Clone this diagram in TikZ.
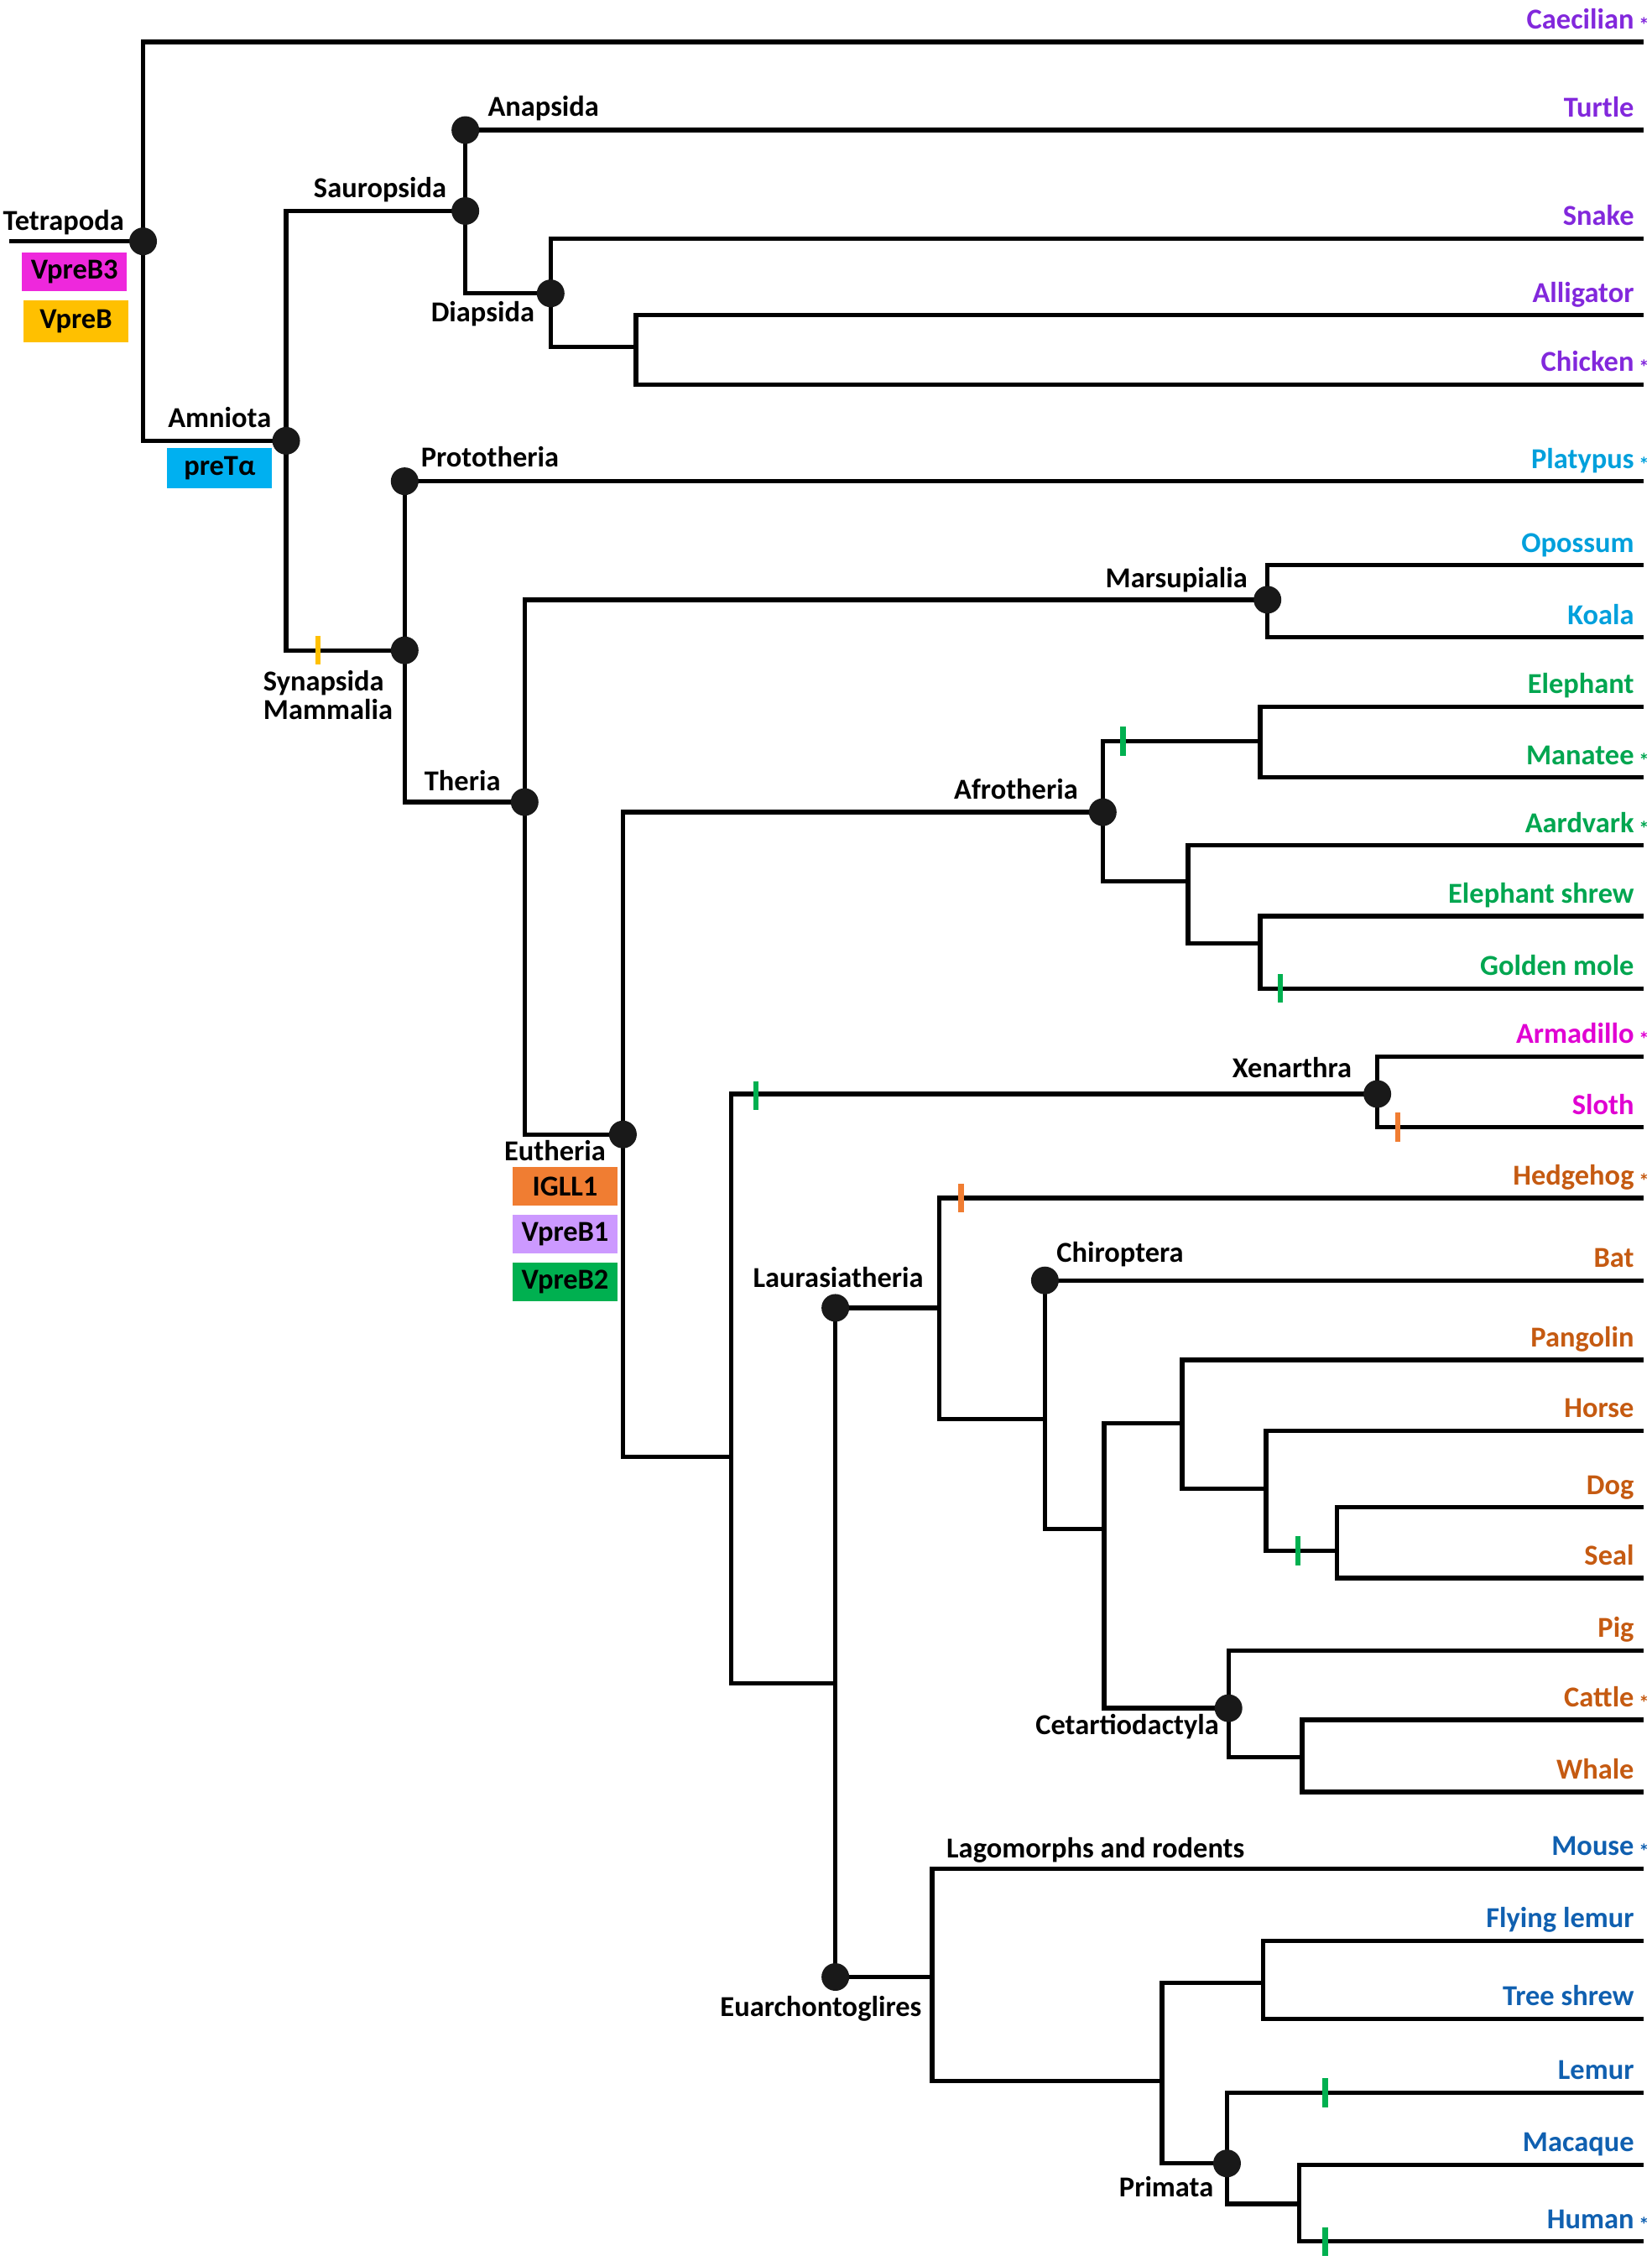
\documentclass[tikz,border=0pt]{standalone}
\usepackage{fontspec}
\setmainfont{Carlito}
\usetikzlibrary{positioning}

\definecolor{cPurple}{RGB}{130,40,220}
\definecolor{cSky}{RGB}{0,160,220}
\definecolor{cGreen}{RGB}{0,166,80}
\definecolor{cMagenta}{RGB}{224,0,210}
\definecolor{cBrown}{RGB}{197,90,17}
\definecolor{cBlue}{RGB}{16,96,176}
\definecolor{bMag}{RGB}{238,40,220}
\definecolor{bAmber}{RGB}{255,192,0}
\definecolor{bCyan}{RGB}{0,176,240}
\definecolor{bOrange}{RGB}{240,125,50}
\definecolor{bLilac}{RGB}{204,153,255}
\definecolor{bGreen}{RGB}{0,176,80}

\newcommand{\mk}{\rlap{\,\raisebox{-0.25ex}{\scriptsize *}}}

\begin{document}
\begin{tikzpicture}[
    x=0.17227mm, y=-0.17227mm,
    br/.style={line width=1.5pt, line cap=rect},
    dot/.style={circle, fill=black!90, minimum size=3.3mm, inner sep=0pt},
    clade/.style={font=\fontsize{9.8}{10.5}\selectfont\bfseries, inner sep=0pt},
    leaf/.style={font=\fontsize{9.8}{10.5}\selectfont\bfseries, inner sep=0pt, anchor=base east},
    gene/.style={font=\fontsize{9.8}{10.5}\selectfont\bfseries, minimum width=12.5mm, minimum height=4.6mm, inner sep=0pt},
    evt/.style={line width=1.8pt},
]
\useasboundingbox (0,0) rectangle (1143,1568);

% leaf ends
\foreach \n/\y in {cae/29, tur/90, sna/165, all/218, chi/266, pla/333, opo/391, koa/441,
    ele/489, man/538, aar/585, esh/634, gmo/684, arm/731, slo/780, hed/829, bat/886,
    pan/941, hor/990, dog/1043, sea/1092, pig/1142, cat/1190, wha/1240, mou/1293,
    fle/1343, tsh/1397, lem/1448, mac/1498, hum/1551}
    \coordinate (\n) at (1136,\y);

% branch points
\coordinate (root) at (8,167);
\coordinate (tetra) at (99,167);
\coordinate (amn) at (198,305);
\coordinate (saur) at (322,146);
\coordinate (diap) at (381,203);
\coordinate (arch) at (440,240);
\coordinate (syn) at (280,450);
\coordinate (ther) at (363,555);
\coordinate (mars) at (877,415);
\coordinate (euth) at (431,785);
\coordinate (afro) at (763,562);
\coordinate (pae) at (872,513);
\coordinate (aardj) at (822,610);
\coordinate (afins) at (872,653);
\coordinate (boreo) at (506,1008);
\coordinate (xen) at (953,757);
\coordinate (laeu) at (578,1165);
\coordinate (laur) at (650,905);
\coordinate (chir) at (723,982);
\coordinate (scro) at (764,1058);
\coordinate (pang) at (818,985);
\coordinate (peri) at (876,1030);
\coordinate (carn) at (925,1073);
\coordinate (ceta) at (850,1182);
\coordinate (rum) at (901,1216);
\coordinate (euar) at (645,1368);
\coordinate (euar2) at (804,1440);
\coordinate (sund) at (874,1372);
\coordinate (prim) at (849,1497);
\coordinate (homj) at (899,1525);

\foreach \p/\c in {root/tetra, tetra/cae, tetra/amn, amn/saur, amn/syn, saur/tur, saur/diap,
    diap/sna, diap/arch, arch/all, arch/chi, syn/pla, syn/ther, ther/mars, ther/euth,
    mars/opo, mars/koa, euth/afro, euth/boreo, afro/pae, afro/aardj, pae/ele, pae/man,
    aardj/aar, aardj/afins, afins/esh, afins/gmo, boreo/xen, boreo/laeu, xen/arm, xen/slo,
    laeu/laur, laeu/euar, laur/hed, laur/chir, chir/bat, chir/scro, scro/pang, scro/ceta,
    pang/pan, pang/peri, peri/hor, peri/carn, carn/dog, carn/sea, ceta/pig, ceta/rum,
    rum/cat, rum/wha, euar/mou, euar/euar2, euar2/sund, euar2/prim, sund/fle, sund/tsh,
    prim/lem, prim/homj, homj/mac, homj/hum}
    \draw[br] (\p) |- (\c);

% dots
\foreach \p in {tetra, amn, saur, diap, syn, ther, mars, euth, afro, xen, ceta, prim}
    \node[dot] (\p-dot) at (\p) {};
\node[dot] (anap-dot) at (322,90) {};
\node[dot] (proto-dot) at (280,333) {};
\node[dot] (laur-dot) at (578,905) {};
\node[dot] (chir-dot) at (723,886) {};
\node[dot] (euar-dot) at (578,1368) {};

% gene gain/loss marks
\foreach \x/\y/\c in {220/450/bAmber, 777/513/bGreen, 886/684/bGreen, 523/758/bGreen,
    967/780/bOrange, 665/829/bOrange, 898/1073/bGreen, 917/1448/bGreen, 917/1551/bGreen}
    \draw[evt, \c] (\x,\y) ++(0,-10) -- ++(0,20);

% species
\foreach \n/\txt/\c in {cae/Caecilian\mk/cPurple, tur/Turtle/cPurple, sna/Snake/cPurple,
    all/Alligator/cPurple, chi/Chicken\mk/cPurple, pla/Platypus\mk/cSky, opo/Opossum/cSky,
    koa/Koala/cSky, ele/Elephant/cGreen, man/Manatee\mk/cGreen, aar/Aardvark\mk/cGreen,
    esh/Elephant shrew/cGreen, gmo/Golden mole/cGreen, arm/Armadillo\mk/cMagenta,
    slo/Sloth/cMagenta, hed/Hedgehog\mk/cBrown, bat/Bat/cBrown, pan/Pangolin/cBrown,
    hor/Horse/cBrown, dog/Dog/cBrown, sea/Seal/cBrown, pig/Pig/cBrown, cat/Cattle\mk/cBrown,
    wha/Whale/cBrown, mou/Mouse\mk/cBlue, fle/Flying lemur/cBlue, tsh/Tree shrew/cBlue,
    lem/Lemur/cBlue, mac/Macaque/cBlue, hum/Human\mk/cBlue}
    \node[leaf, text=\c] (\n-t) at ([shift={(-5,-9)}]\n) {\txt};

% clades
\node[clade] (tetra-l) at (44,154) {Tetrapoda};
\node[clade] (amn-l) at (152,289) {Amniota};
\node[clade] (saur-l) at (263,131) {Sauropsida};
\node[clade] (anap-l) at (376,75) {Anapsida};
\node[clade] (diap-l) at (334,217) {Diapsida};
\node[clade] (proto-l) at (339,316) {Prototheria};
\node[clade, align=left, font=\fontsize{9.8}{8.4}\selectfont\bfseries] (syn-l) at (227,481) {Synapsida\\Mammalia};
\node[clade] (ther-l) at (320,540) {Theria};
\node[clade] (mars-l) at (814,401) {Marsupialia};
\node[clade] (euth-l) at (384,796) {Eutheria};
\node[clade] (afro-l) at (703,546) {Afrotheria};
\node[clade] (xen-l) at (894,739) {Xenarthra};
\node[clade] (laur-l) at (580,884) {Laurasiatheria};
\node[clade] (chir-l) at (775,868) {Chiroptera};
\node[clade] (ceta-l) at (780,1195) {Cetartiodactyla};
\node[clade] (glir-l) at (758,1280) {Lagomorphs and rodents};
\node[clade] (euar-l) at (568,1390) {Euarchontoglires};
\node[clade] (prim-l) at (807,1513) {Primata};

% genes
\node[gene, fill=bMag] (vpreb3) at (51.5,188) {VpreB3};
\node[gene, fill=bAmber, minimum height=5mm] (vpreb) at (52.5,222.5) {VpreB};
\node[gene, fill=bCyan, minimum height=4.8mm] (pretalpha) at (152,324) {preTα};
\node[gene, fill=bOrange] (igll1) at (391,821) {IGLL1};
\node[gene, fill=bLilac] (vpreb1) at (391,854) {VpreB1};
\node[gene, fill=bGreen] (vpreb2) at (391,887) {VpreB2};

\end{tikzpicture}
\end{document}
